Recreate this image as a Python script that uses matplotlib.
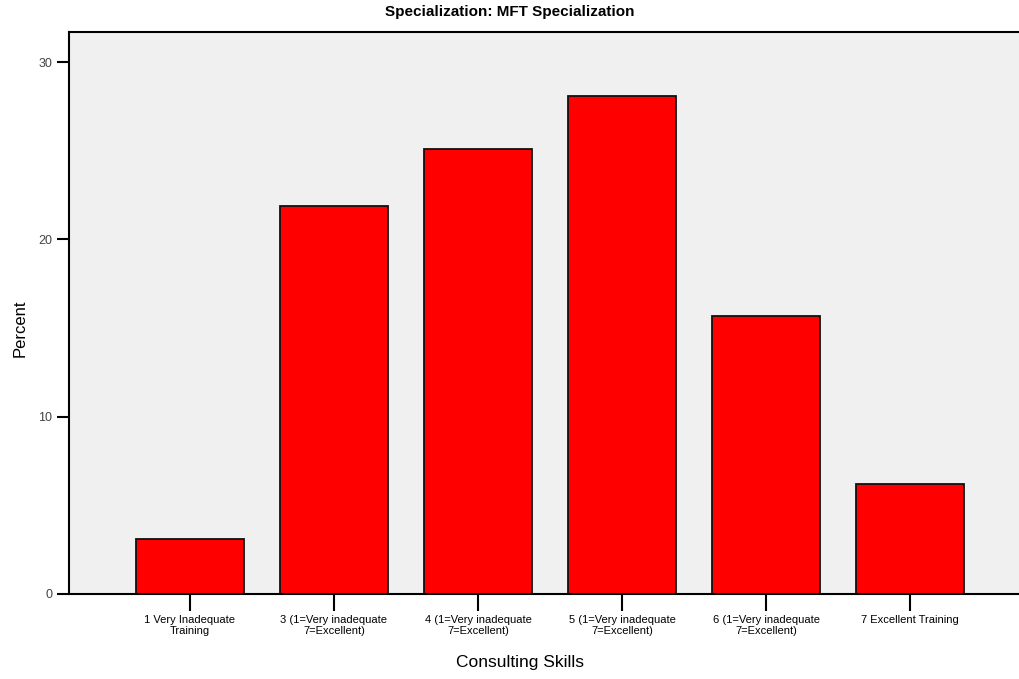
import numpy as np
import matplotlib.pyplot as plt
from matplotlib import font_manager

# data
categories = ["1 Very Inadequate\nTraining",
              "3 (1=Very inadequate\n7=Excellent)",
              "4 (1=Very inadequate\n7=Excellent)",
              "5 (1=Very inadequate\n7=Excellent)",
              "6 (1=Very inadequate\n7=Excellent)",
              "7 Excellent Training"]
percent = [3.1, 21.9, 25.1, 28.1, 15.7, 6.2]
y_ticks = [0, 10, 20, 30]

names = {f.name for f in font_manager.fontManager.ttflist}
fam = "Liberation Sans Narrow" if "Liberation Sans Narrow" in names else "Liberation Sans"
plt.rcParams['font.family'] = [fam, 'DejaVu Sans']

fig = plt.figure(figsize=(10.2, 6.79), dpi=100)
ax = fig.add_axes([69/1020, 1-594/679, (1031-69)/1020, (594-32)/679])
ax.set_facecolor("#f0f0f0")

x = np.arange(len(categories))
ax.bar(x, percent, width=0.755, color="#ff0000", edgecolor="#111111", linewidth=1.3, zorder=2)

ax.set_xlim(-0.84, len(categories) - 1 + 0.84)
ax.set_ylim(0, 31.7)
ax.set_yticks(y_ticks)
ax.set_xticks(x)
ax.set_xticklabels(categories, fontsize=8, linespacing=1.15)
ax.tick_params(axis="y", length=9, width=1.5, labelsize=9, labelcolor="#444444", pad=3)
ax.tick_params(axis="x", length=12, width=1.5, pad=3)

for s in ["left", "top", "bottom"]:
    ax.spines[s].set_linewidth(1.5)
ax.spines["right"].set_visible(False)

fig.text(0.5, 1-12/679, "Specialization: MFT Specialization", ha="center", va="center",
         fontsize=11, fontweight="bold")
fig.text(520/1020, 1-662/679, "Consulting Skills", ha="center", va="center", fontsize=12.5)
fig.text(20/1020, 1-328/679, "Percent", ha="center", va="center", rotation=90, fontsize=12)

fig.savefig("out.png", dpi=100)
